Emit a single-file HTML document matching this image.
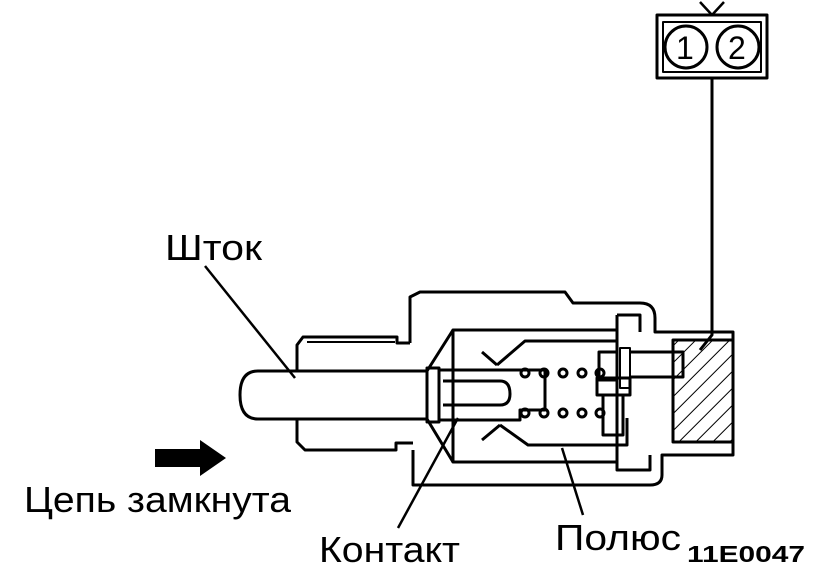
<!DOCTYPE html><html><head><style>body{margin:0;background:#fff}svg{display:block}text{font-family:"Liberation Sans",sans-serif;fill:#000}</style></head><body>
<svg width="833" height="571" viewBox="0 0 833 571" xmlns="http://www.w3.org/2000/svg">
<defs><pattern id="h" width="12" height="12" patternUnits="userSpaceOnUse" patternTransform="rotate(45)"><line x1="0" y1="0" x2="0" y2="12" stroke="#000" stroke-width="2"/></pattern></defs>
<g fill="none" stroke="#000" stroke-width="3" stroke-linejoin="round">
<rect x="657" y="15" width="110" height="63"/>
<rect x="663" y="22" width="98" height="50" stroke-width="2"/>
<circle cx="686" cy="47" r="21"/><circle cx="738" cy="47" r="21"/>
<path d="M700 2 L712 15 L724 2" stroke-width="2.5"/>
<path d="M712 78 V335 L700 350"/>
<path d="M410 343 V297 L420 292 H565 L573 303 H640 Q655 303 655 318 V332 H733 V455 H662 V475 Q662 485 650 485 H413 V450"/>
<path d="M640 332 V315 H617"/>
<path d="M617 315 V470 H650 V455"/>
<path d="M410 343 H397 V337 H303 L297 345 V372"/>
<path d="M307 342 H395" stroke-width="2"/>
<path d="M297 420 V442 L305 450 H396 V443 H413"/>
<path d="M427 371 H258 Q240 371 240 395 Q240 419 258 419 H427"/>
<path d="M617 330 H453 V462 H617"/>
<path d="M427 371 L453 330 M427 419 L453 462"/>
<rect x="427" y="368" width="12" height="54"/>
<path d="M439 370 H545 V388 M439 420 H520 V410 H545 V388"/>
<path d="M443 381 H500 Q510 381 510 394 Q510 405 500 405 H443"/>
<path d="M617 341 H525 L497 365 M482 352 L497 365"/>
<path d="M627 418 V445 H528 L500 425 M482 440 L500 425"/>
<rect x="599" y="352" width="18" height="28"/>
<rect x="603" y="395" width="20" height="40"/>
<path d="M597 378 H630 V395 H597 Z"/>
<path d="M630 352 H683 V377 H630"/>
<rect x="620" y="348" width="10" height="40" stroke-width="2"/>
<rect x="673" y="340" width="60" height="102" fill="url(#h)"/>
<path d="M205 266 L295 378" stroke-width="2.5"/>
<path d="M398 528 L458 418" stroke-width="2.5"/>
<path d="M583 515 L562 448" stroke-width="2.5"/>
</g>
<g fill="none" stroke="#000" stroke-width="3">
<circle cx="525" cy="373" r="4"/><circle cx="544" cy="373" r="4"/><circle cx="563" cy="373" r="4"/><circle cx="582" cy="373" r="4"/><circle cx="600" cy="373" r="4"/>
<circle cx="525" cy="413" r="4"/><circle cx="544" cy="413" r="4"/><circle cx="563" cy="413" r="4"/><circle cx="582" cy="413" r="4"/><circle cx="600" cy="413" r="4"/>
</g>
<g fill="#000">
<path d="M155 449 H200 V440 L226 458 L200 476 V467 H155 Z"/>
<text x="676" y="59" font-size="32">1</text><text x="728" y="59" font-size="32">2</text>
<text x="165" y="260" font-size="36" textLength="97" lengthAdjust="spacingAndGlyphs">Шток</text>
<text x="24" y="512" font-size="36" textLength="267" lengthAdjust="spacingAndGlyphs">Цепь замкнута</text>
<text x="319" y="562" font-size="36" textLength="141" lengthAdjust="spacingAndGlyphs">Контакт</text>
<text x="555" y="550" font-size="36" textLength="126" lengthAdjust="spacingAndGlyphs">Полюс</text>
<text x="687" y="562" font-size="23" font-weight="bold" textLength="118" lengthAdjust="spacingAndGlyphs">11E0047</text>
</g>
</svg></body></html>
